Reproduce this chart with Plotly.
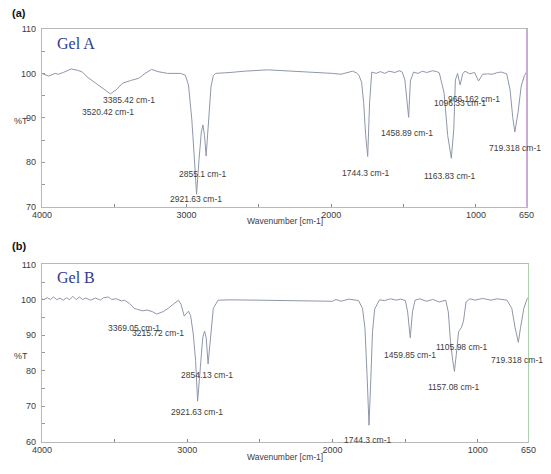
import plotly.graph_objects as go

# FTIR spectra, wavenumber [cm-1] vs %T
wn_a = [4000, 3953, 3909, 3887, 3853, 3798, 3753, 3720, 3687, 3642, 3609, 3575, 3527,
        3487, 3442, 3387, 3331, 3287, 3242, 3198, 3131, 3042, 3009, 2987, 2964, 2942,
        2931, 2915, 2898, 2887, 2876, 2865, 2847, 2831, 2815, 2800, 2700, 2600, 2440,
        2300, 2150, 1990, 1933, 1880, 1853, 1825, 1809, 1790, 1776, 1762, 1748, 1735,
        1720, 1690, 1660, 1630, 1600, 1560, 1530, 1509, 1491, 1465, 1453, 1431, 1400,
        1370, 1340, 1300, 1270, 1253, 1220, 1195, 1170, 1153, 1142, 1127, 1109, 1091,
        1076, 1042, 1009, 982, 953, 920, 887, 850, 824, 787, 764, 745, 731, 709, 687,
        665, 650]
t_a = [100.0, 99.4, 100.0, 99.8, 100.2, 101.0, 100.7, 100.3, 99.2, 98.1, 97.4, 96.5, 95.4,
       96.3, 97.8, 98.4, 98.9, 100.0, 100.9, 100.4, 100.0, 100.0, 99.6, 97.4, 89.7, 78.7,
       72.8, 80.2, 86.8, 88.4, 86.0, 81.4, 89.7, 97.1, 99.5, 100.0, 100.2, 100.5, 100.8,
       100.6, 100.3, 100.0, 99.8, 100.2, 100.5, 100.1, 99.6, 98.0, 93.4, 86.0, 81.3, 93.4,
       100.3, 100.0, 100.4, 100.0, 100.5, 100.2, 100.6, 100.3, 98.5, 90.1, 98.3, 100.3, 100.0,
       100.5, 100.2, 100.6, 100.4, 100.1, 95.6, 86.0, 80.9, 87.5, 98.5, 100.0, 97.4, 99.9,
       100.5, 99.9, 100.2, 98.3, 99.8, 99.9, 99.8, 100.2, 100.3, 99.9, 96.3, 90.0, 86.8, 91.2, 97.1,
       99.5, 100.3]

wn_b = [4000, 3987, 3964, 3942, 3920, 3898, 3876, 3853, 3831, 3809, 3787, 3764, 3742,
        3720, 3698, 3665, 3631, 3598, 3576, 3542, 3520, 3487, 3453, 3431, 3398, 3365,
        3342, 3309, 3276, 3242, 3209, 3164, 3131, 3087, 3060, 3042, 3020, 3002, 2991,
        2976, 2958, 2942, 2928, 2909, 2893, 2880, 2869, 2856, 2838, 2820, 2787, 2700,
        2500, 2300, 2100, 2000, 1976, 1940, 1887, 1820, 1793, 1776, 1760, 1748, 1735,
        1724, 1709, 1676, 1640, 1600, 1560, 1530, 1498, 1482, 1464, 1449, 1431, 1398,
        1353, 1309, 1264, 1220, 1202, 1187, 1172, 1160, 1147, 1131, 1113, 1098, 1080,
        1053, 1020, 965, 909, 865, 798, 765, 742, 720, 705, 682, 660, 650]
t_b = [100.3, 100.05, 100.6, 100.1, 100.8, 100.05, 100.5, 99.9, 100.6, 100.05, 101.0, 100.05, 100.8,
       100.1, 100.5, 99.9, 100.5, 99.9, 100.6, 100.8, 100.1, 100.3, 99.7, 99.9, 99.0, 97.6,
       97.3, 96.9, 97.1, 96.7, 96.0, 96.7, 97.6, 99.0, 99.9, 98.7, 95.4, 96.3, 96.8,
       95.5, 90.4, 82.9, 71.4, 81.0, 89.3, 91.2, 89.3, 81.9, 89.3, 97.6, 99.9, 100.0,
       99.9, 99.8, 99.6, 99.6, 100.1, 99.6, 100.2, 99.8, 97.6, 92.1, 77.4, 64.6, 78.3,
       91.0, 97.4, 100.0, 99.8, 100.3, 99.9, 100.2, 99.8, 96.6, 89.3, 96.6, 99.9, 100.3,
       99.6, 100.1, 99.4, 99.9, 96.6, 88.3, 83.0, 79.8, 84.6, 91.1, 92.1, 93.9, 99.4,
       100.3, 99.9, 100.4, 99.9, 100.3, 99.9, 97.6, 92.1, 88.0, 92.1, 97.6, 100.3, 100.7]

# peak labels: text, x (wavenumber), y (%T)
labels_a = ["3385.42 cm-1", "3520.42 cm-1", "2855.1 cm-1", "2921.63 cm-1", "1744.3 cm-1",
            "1458.89 cm-1", "1163.83 cm-1", "1096.33 cm-1", "966.162 cm-1", "719.318 cm-1"]
lab_x_a = [3400, 3542, 2887, 2935, 1758, 1476, 1176, 1109, 1013, 731]
lab_y_a = [94.0, 91.4, 77.4, 71.7, 77.6, 86.5, 76.9, 93.4, 94.3, 83.1]

labels_b = ["3369.05 cm-1", "3215.72 cm-1", "2854.13 cm-1", "2921.63 cm-1", "1744.3 cm-1",
            "1459.85 cm-1", "1105.98 cm-1", "1157.08 cm-1", "719.318 cm-1"]
lab_x_b = [3367, 3200, 2865, 2931, 1753, 1464, 1109, 1164, 727]
lab_y_b = [92.0, 90.6, 78.8, 68.3, 60.5, 84.4, 86.8, 75.5, 83.0]

W, H = 551, 474
LINE = "#8e97aa"
FRAME = "#b8b8b8"
TXT = "#3c3c3c"
FONT = "Liberation Sans"


def px(x):
    # pixel in the reference image -> paper x
    return x / W


def py(y):
    return 1 - y / H


fig = go.Figure()
fig.add_trace(go.Scatter(x=wn_a, y=t_a, mode="lines", line=dict(color=LINE, width=1),
                         xaxis="x", yaxis="y", hoverinfo="skip"))
fig.add_trace(go.Scatter(x=wn_b, y=t_b, mode="lines", line=dict(color=LINE, width=1),
                         xaxis="x2", yaxis="y2", hoverinfo="skip"))


def xaxis(domain, anchor):
    return dict(domain=domain, anchor=anchor, range=[4000, 650],
                tickvals=[4000, 3000, 2000, 1000, 650], ticks="", showgrid=False,
                zeroline=False, showline=True, mirror=True, linecolor=FRAME, linewidth=1,
                tickfont=dict(family=FONT, size=9, color=TXT),
                minor=dict(tickvals=[3500, 3000, 2500, 2000, 1500, 1000], ticks="inside",
                           ticklen=3, tickcolor="#888888", showgrid=False))


def yaxis(domain, anchor, lo, hi):
    return dict(domain=domain, anchor=anchor, range=[lo, hi],
                tickvals=list(range(lo, hi + 1, 10)), ticks="", showgrid=False,
                zeroline=False, showline=True, mirror=True, linecolor=FRAME, linewidth=1,
                ticklabelstandoff=3,
                tickfont=dict(family=FONT, size=9, color=TXT),
                minor=dict(tickvals=list(range(lo + 5, hi, 5)), ticks="inside",
                           ticklen=3, tickcolor="#999999", showgrid=False))


fig.update_layout(
    width=W, height=H,
    margin=dict(l=0, r=0, t=0, b=0),
    paper_bgcolor="white", plot_bgcolor="white",
    showlegend=False,
    xaxis=xaxis([px(33), px(534)], "y"),
    yaxis=yaxis([py(206), py(24.5)], "x", 70, 110),
    xaxis2=xaxis([px(33), px(536)], "y2"),
    yaxis2=yaxis([py(446), py(265)], "x2", 60, 110),
)

ann = []
for txt, x, y in zip(labels_a, lab_x_a, lab_y_a):
    ann.append(dict(text=txt, x=x, y=y, xref="x", yref="y", showarrow=False,
                    font=dict(family=FONT, size=8.5, color=TXT)))
for txt, x, y in zip(labels_b, lab_x_b, lab_y_b):
    ann.append(dict(text=txt, x=x, y=y, xref="x2", yref="y2", showarrow=False,
                    font=dict(family=FONT, size=8.5, color=TXT)))

# panel letters, gel names, axis titles
for letter, y0 in [("(a)", 8), ("(b)", 246)]:
    ann.append(dict(text="<b>" + letter + "</b>", x=px(0), y=py(y0), xref="paper", yref="paper",
                    xanchor="left", yanchor="middle", showarrow=False,
                    font=dict(family=FONT, size=11, color="#111111")))
for name, y0 in [("Gel A", 39), ("Gel B", 278)]:
    ann.append(dict(text=name, x=px(47), y=py(y0), xref="paper", yref="paper",
                    xanchor="left", yanchor="middle", showarrow=False,
                    font=dict(family="Liberation Serif", size=16, color="#2f3a92")))
for y0 in [119, 359]:
    ann.append(dict(text="%T", x=px(2), y=py(y0), xref="paper", yref="paper",
                    xanchor="left", yanchor="middle", showarrow=False,
                    font=dict(family=FONT, size=9, color=TXT)))
for y0 in [221, 462]:
    ann.append(dict(text="Wavenumber [cm-1]", x=px(284), y=py(y0), xref="paper", yref="paper",
                    xanchor="center", yanchor="middle", showarrow=False,
                    font=dict(family=FONT, size=8.5, color=TXT)))
fig.update_layout(annotations=ann)

# tinted right edges of the scanned frames
fig.add_shape(type="line", xref="paper", yref="paper", x0=px(534), x1=px(534),
              y0=py(206), y1=py(24.5), line=dict(color="#c9a9d6", width=1))
fig.add_shape(type="line", xref="paper", yref="paper", x0=px(536), x1=px(536),
              y0=py(446), y1=py(265), line=dict(color="#a9d6ae", width=1))

# drop the default body margin so the figure sits at the page's top-left corner
fig.write_html("out.html", config={"displayModeBar": False},
               post_script="document.body.style.margin = '0';")
